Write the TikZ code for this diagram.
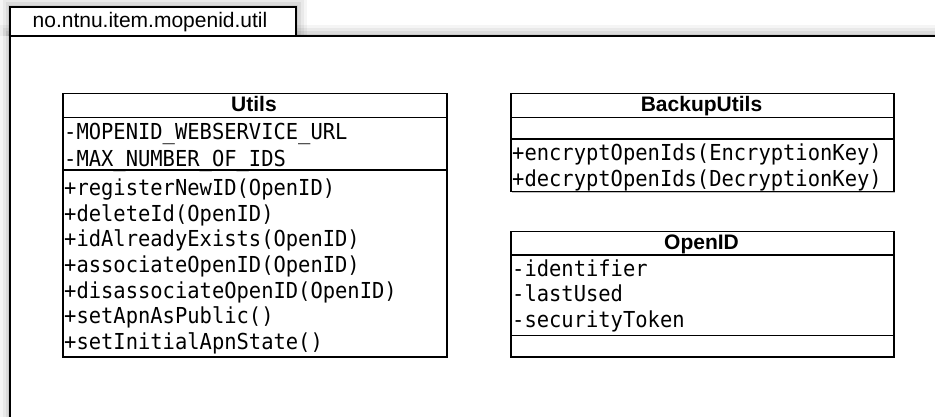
\documentclass[tikz,border=0pt]{standalone}
\usepackage{fontspec}
\setmainfont{Liberation Sans}
\setmonofont[FakeStretch=0.93]{DejaVu Sans Mono}
\usetikzlibrary{shadows}

\begin{document}
\begin{tikzpicture}[x=1pt,y=-1pt,
  frameline/.style={draw=black, line width=1.8pt, line join=miter},
  glow/.style={draw=black, line join=miter},
  classbox/.style={draw=black, line width=1.5pt, fill=white, rectangle,
    inner sep=0pt, anchor=north west,
    drop shadow={shadow xshift=1pt, shadow yshift=-1pt, fill=black, opacity=0.25}},
  sep/.style={draw=black, line width=1.5pt},
  classname/.style={anchor=base, inner sep=0pt, font=\bfseries\fontsize{21}{25}\selectfont},
  member/.style={anchor=base west, inner sep=0pt, font=\ttfamily\fontsize{22}{26}\selectfont},
  pkglabel/.style={anchor=base, inner sep=0pt, font=\fontsize{21}{25}\selectfont}]

\useasboundingbox (0,0) rectangle (935,417);
\clip (0,0) rectangle (935,417);

% package frame: soft halo, white body, outline
\foreach \w/\o in {22/0.04, 15/0.05, 9/0.06, 4/0.07}{
  \draw[glow, line width=\w pt, opacity=\o] (10,36) -- (10,7) -- (296,7) -- (296,36);
  \draw[glow, line width=\w pt, opacity=\o] (10,36) rectangle (960,440);
}
\fill[white] (10,7) rectangle (296,36);
\fill[white] (10,36) rectangle (960,440);
\draw[frameline] (10,36) -- (10,7) -- (296,7) -- (296,36);
\draw[frameline] (10,36) rectangle (960,440);
\node[pkglabel] (pkg) at (150,27.5) {no.ntnu.item.mopenid.util};

% class Utils
\node[classbox, minimum width=384pt, minimum height=263.3pt] (utils) at (62,92.7) {};
\draw[sep] (utils.west |- 0,117.3) -- (utils.east |- 0,117.3);
\draw[sep] (utils.west |- 0,170) -- (utils.east |- 0,170);
\node[classname] (utilsname) at (254,111.7) {Utils};
\node[member] (ua1) at (64,140) {-MOPENID\char"5F WEBSERVICE\char"5F URL};
\node[member] (ua2) at (64,166.5) {-MAX\char"5F NUMBER\char"5F OF\char"5F IDS};
\foreach \t [count=\i from 0] in {+registerNewID(OpenID), +deleteId(OpenID),
    +idAlreadyExists(OpenID), +associateOpenID(OpenID),
    +disassociateOpenID(OpenID), +setApnAsPublic(), +setInitialApnState()}
  \node[member] (um\i) at (64,{196+25.5*\i}) {\t};

% class BackupUtils
\node[classbox, minimum width=383pt, minimum height=98.3pt] (backup) at (510,92.7) {};
\draw[sep] (backup.west |- 0,117.3) -- (backup.east |- 0,117.3);
\draw[sep] (backup.west |- 0,139) -- (backup.east |- 0,139);
\node[classname] (backupname) at (701.5,111.7) {BackupUtils};
\node[member] (bm1) at (512,160.5) {+encryptOpenIds(EncryptionKey)};
\node[member] (bm2) at (512,186) {+decryptOpenIds(DecryptionKey)};

% class OpenID
\node[classbox, minimum width=383pt, minimum height=125.3pt] (openid) at (510,230.7) {};
\draw[sep] (openid.west |- 0,255) -- (openid.east |- 0,255);
\draw[sep] (openid.west |- 0,335.5) -- (openid.east |- 0,335.5);
\node[classname] (openidname) at (701.5,249.5) {OpenID};
\node[member] (oa1) at (512,276) {-identifier};
\node[member] (oa2) at (512,301.5) {-lastUsed};
\node[member] (oa3) at (512,327) {-securityToken};
\end{tikzpicture}
\end{document}
